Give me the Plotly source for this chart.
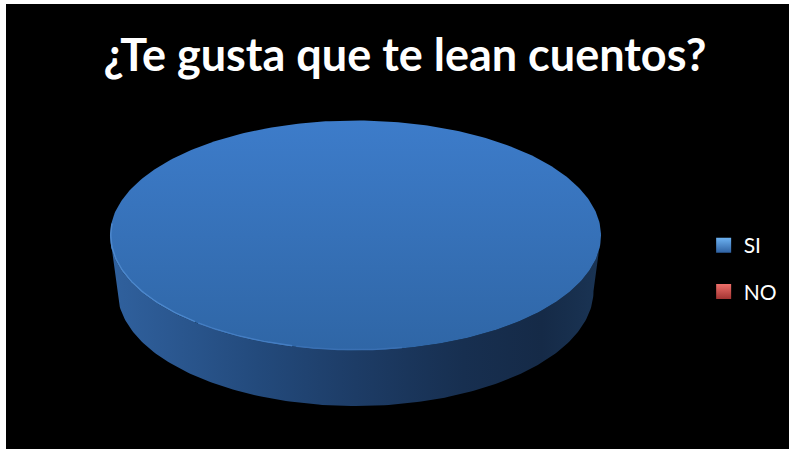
import numpy as np
import plotly.graph_objects as go

title = "¿Te gusta que te lean cuentos?"
categories = ["SI", "NO"]
values = [100, 0]
colors = ["#2f62a3", "#a33432"]
light = ["#6db2f2", "#ee6f6a"]

W, H = 789, 449
# geometry of the disc, in the axes' units
cx, cy, rx, ry = 355.5, 235.5, 245.5, 115
bx, by, brx, bry = 355.5, 291, 238, 115

total = sum(values)
th = np.linspace(0, 2 * np.pi * values[0] / total, 361)
top_x = cx + rx * np.cos(th)
top_y = cy + ry * np.sin(th)

front = np.linspace(0, np.pi, 181)
rim_x = np.r_[cx + rx * np.cos(front), bx + brx * np.cos(front[::-1])]
rim_y = np.r_[cy + ry * np.sin(front), by + bry * np.sin(front[::-1])]

fig = go.Figure()
fig.add_trace(go.Scatter(
    x=rim_x, y=rim_y, mode="lines", line=dict(width=0), fill="toself",
    fillgradient=dict(type="horizontal", colorscale=[
        [0, "#30619e"], [0.12, "#2b5891"], [0.3, "#234a7c"], [0.5, "#1d3c66"],
        [0.72, "#172f50"], [0.88, "#152a47"], [1, "#1a3454"]]),
    hoverinfo="skip", showlegend=False))
fig.add_trace(go.Scatter(
    x=top_x, y=top_y, mode="lines", line=dict(width=0), fill="toself",
    fillgradient=dict(type="vertical", colorscale=[
        [0, "#2f66a6"], [1, "#3d7cca"]]),
    hoverinfo="skip", showlegend=False))
# soft highlight along the lower-left edge of the top face, fading to the right
for a0, a1, shade in [(np.pi / 2 - 0.2, np.pi / 2 + 0.25, "#3a70b3"),
                      (np.pi / 2 + 0.25, np.pi / 2 + 0.7, "#447dc2"),
                      (np.pi / 2 + 0.7, np.pi + 0.1, "#4c87cc")]:
    edge = th[(th >= a0) & (th <= a1 + 0.01)]
    fig.add_trace(go.Scatter(
        x=cx + (rx - 0.8) * np.cos(edge), y=cy + (ry - 0.8) * np.sin(edge),
        mode="lines", line=dict(color=shade, width=1.5),
        hoverinfo="skip", showlegend=False))
for name, col, lt in zip(categories, colors, light):
    fig.add_trace(go.Scatter(
        x=[None], y=[None], mode="markers", name=name, legendgroup=name,
        marker=dict(symbol="square", size=15, color=lt,
                    gradient=dict(type="vertical", color=col))))

fig.update_layout(
    width=W, height=H, autosize=False,
    margin=dict(l=6, r=0, t=4, b=0),
    paper_bgcolor="white", plot_bgcolor="black",
    xaxis=dict(visible=False, range=[6, 789], fixedrange=True),
    yaxis=dict(visible=False, range=[449, 4], fixedrange=True),
    title=dict(text=f"<b>{title}</b>", x=405 / W, xanchor="center", y=1 - 55 / H, yanchor="middle",
               font=dict(family="Lato", size=45, color="white")),
    legend=dict(x=0.891, xanchor="left", y=1 - 223 / H, yanchor="top",
                bgcolor="rgba(0,0,0,0)", font=dict(family="Lato", size=21, color="white"),
                tracegroupgap=16),
)
fig.write_html("out.html", config=dict(displayModeBar=False),
               post_script="document.body.style.margin='0';")
